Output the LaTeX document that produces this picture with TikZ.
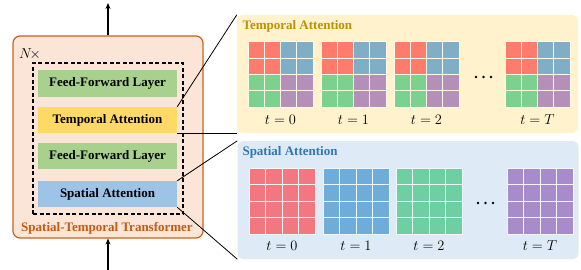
\documentclass[tikz,border=0pt]{standalone}
\usepackage{fontspec}
\setmainfont{Liberation Serif}
\usetikzlibrary{arrows.meta}
\definecolor{peach}{HTML}{FBE5D6}
\definecolor{stborder}{HTML}{C8621E}
\definecolor{stlabel}{HTML}{C55A11}
\definecolor{ffgreen}{HTML}{A9D18E}
\definecolor{tayellow}{HTML}{FFD966}
\definecolor{sablue}{HTML}{9DC3E6}
\definecolor{tpanel}{HTML}{FFF2CC}
\definecolor{ttitle}{HTML}{BF9000}
\definecolor{spanel}{HTML}{DEEBF7}
\definecolor{stitle}{HTML}{2E75B6}
\definecolor{tred}{HTML}{FF7B6B}
\definecolor{tblue}{HTML}{7FAEC6}
\definecolor{tgreen}{HTML}{7DD18E}
\definecolor{tpurple}{HTML}{B48FB7}
\definecolor{sred}{HTML}{F2777E}
\definecolor{sblue}{HTML}{6EADDA}
\definecolor{sgreen}{HTML}{6ECFA3}
\definecolor{spurple}{HTML}{A88BCA}
\begin{document}
\begin{tikzpicture}[x=1pt,y=-1pt,
  layer/.style={minimum width=139pt, minimum height=26pt, inner sep=0pt, font=\bfseries\fontsize{13}{14}\selectfont},
  panel/.style={rounded corners=5pt, minimum width=341pt, minimum height=118pt, inner sep=0pt},
  ptitle/.style={anchor=west, font=\bfseries\fontsize{13}{14}\selectfont},
  tlab/.style={font=\fontsize{15}{17}\selectfont},
  conn/.style={line width=0.8pt, black},
  arr/.style={line width=1.2pt, -{Stealth[length=6pt,width=5pt]}}]
\useasboundingbox (0,0) rectangle (581,270);
% outer transformer block
\node[draw=stborder, fill=peach, rounded corners=7pt, line width=1.2pt, minimum width=190pt, minimum height=202pt, inner sep=0pt] (st) at (108,137) {};
\coordinate (top) at (108,3);
\coordinate (bot) at (108,270);
\draw[arr] (st.north) -- (top);
\draw[arr] (bot) -- (st.south);
\node[font=\fontsize{15}{16}\selectfont] (nx) at (30,54) {$N\!\times$};
\node[draw, dashed, line width=1.2pt, dash pattern=on 4pt off 2.5pt, minimum width=150pt, minimum height=151pt, inner sep=0pt] (rep) at (108,138.5) {};
\node[layer, fill=ffgreen] (ff1) at (107.5,83.5) {Feed-Forward Layer};
\node[layer, fill=tayellow] (ta) at (107.5,120) {Temporal Attention};
\node[layer, fill=ffgreen] (ff2) at (107.5,156) {Feed-Forward Layer};
\node[layer, fill=sablue] (sa) at (107.5,194) {Spatial Attention};
\node[font=\bfseries\fontsize{13}{14}\selectfont, text=stlabel] (stl) at (107,228) {Spatial-Temporal Transformer};
% panels
\node[panel, fill=tpanel] (tp) at (407.5,74) {};
\node[panel, fill=spanel] (sp) at (408,200) {};
\node[ptitle, text=ttitle] (tpt) at (239,26) {Temporal Attention};
\node[ptitle, text=stitle] (spt) at (239,152) {Spatial Attention};
% temporal grids
\foreach \gx in {248,321,394,505}{
  \foreach \qx/\qy/\col in {0/0/tred,2/0/tblue,0/2/tgreen,2/2/tpurple}{
    \foreach \i in {0,1}{
      \foreach \j in {0,1}{
        \filldraw[fill=\col, draw=white!60!tpanel, line width=1pt]
          (\gx+\qx*16.25+\i*16.25, 42+\qy*16.25+\j*16.25) rectangle ++(16.25,16.25);
      }
    }
  }
}
% spatial grids
\foreach \gx/\col in {249/sred,323/sblue,396/sgreen,507/spurple}{
  \foreach \i in {0,...,3}{
    \foreach \j in {0,...,3}{
      \filldraw[fill=\col, draw=white!60!spanel, line width=1pt]
        (\gx+\i*16.5, 168+\j*16.5) rectangle ++(16.5,16.5);
    }
  }
}
% labels
\node[tlab] (t0) at (280.5,120) {$t=0$};
\node[tlab] (t1) at (353.5,120) {$t=1$};
\node[tlab] (t2) at (426.5,120) {$t=2$};
\node[tlab] (tT) at (537.5,120) {$t=T$};
\node[tlab] (s0) at (282,246) {$t=0$};
\node[tlab] (s1) at (356,246) {$t=1$};
\node[tlab] (s2) at (429,246) {$t=2$};
\node[tlab] (sT) at (540,246) {$t=T$};
% ellipses
\foreach \dx in {476,483.5,491}{
  \fill (\dx,77) circle (1.4pt);
  \fill (\dx+2,203) circle (1.4pt);
}
% connectors
\draw[conn] (ta.north east) -- (tp.north west);
\draw[conn] (ta.south east) -- (tp.south west);
\draw[conn] (sa.north east) -- (sp.north west);
\draw[conn] (sa.south east) -- (sp.south west);
\end{tikzpicture}
\end{document}
